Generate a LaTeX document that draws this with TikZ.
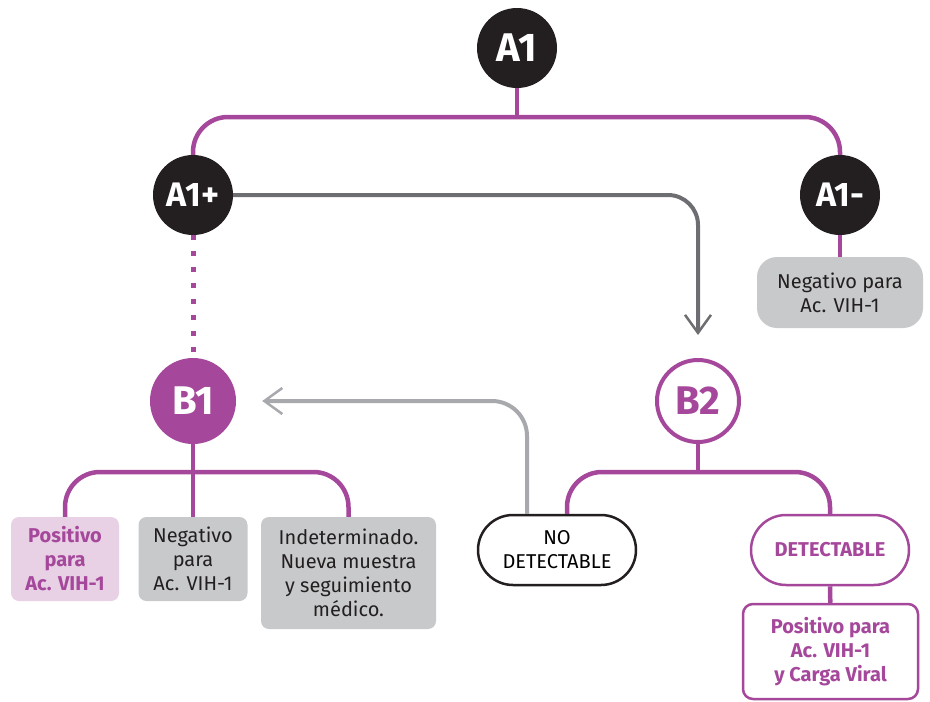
\documentclass[tikz,border=0pt]{standalone}
\usepackage{fontspec}
\setmainfont{Fira Sans}
\usepackage{tikz}
\usetikzlibrary{arrows.meta}
\definecolor{TestPurple}{RGB}{165,72,155}
\definecolor{TestPink}{RGB}{232,208,229}
\definecolor{CircleBlack}{RGB}{35,31,32}
\definecolor{BoxGrey}{RGB}{200,201,203}
\definecolor{DarkGrey}{RGB}{109,110,113}
\definecolor{LightGrey}{RGB}{167,169,172}

\tikzset{
  smalltext/.style={font=\fontsize{20}{24}\selectfont},
  blackcircle/.style={circle, fill=CircleBlack, text=white, inner sep=0pt, minimum size=80pt,
    font=\fontsize{40}{40}\selectfont\bfseries},
  purplecircle/.style={circle, fill=TestPurple, text=white, inner sep=0pt, minimum size=86pt,
    font=\fontsize{40}{40}\selectfont\bfseries},
  ringcircle/.style={circle, draw=TestPurple, line width=4pt, fill=white, text=TestPurple,
    inner sep=0pt, minimum size=82pt, font=\fontsize{40}{40}\selectfont\bfseries},
  greybox/.style={smalltext, fill=BoxGrey, text=CircleBlack, align=center, rounded corners=8pt, inner sep=2pt},
  pinkbox/.style={greybox, fill=TestPink, text=TestPurple, font=\fontsize{20}{24}\selectfont\bfseries},
  pillbox/.style={smalltext, draw=CircleBlack, line width=2.5pt, fill=white, align=center,
    rounded corners=35pt, minimum width=158pt, minimum height=70pt, inner sep=2pt},
  resultbox/.style={smalltext, draw=TestPurple, line width=2.5pt, fill=white, text=TestPurple,
    align=center, rounded corners=10pt, inner sep=2pt, font=\fontsize{20}{24}\selectfont\bfseries},
  purpleline/.style={draw=TestPurple, line width=4.5pt},
  dotline/.style={purpleline, line width=5pt, dash pattern=on 5pt off 11pt},
  greyarrow/.style={line width=4pt, rounded corners=30pt,
    -{Straight Barb[length=18pt, width=26pt, line width=2.5pt]}}
}

\begin{document}
\begin{tikzpicture}[x=1pt, y=-1pt]
    \useasboundingbox (0,0) rectangle (930,702);

    % First test
    \node[blackcircle] (a1) at (517,48) {A1};
    \node[blackcircle, font=\fontsize{34}{34}\selectfont\bfseries] (a1pos) at (193,195) {A1+};
    \node[blackcircle, font=\fontsize{34}{34}\selectfont\bfseries] (a1neg) at (840,195) {A1-};
    \coordinate (a1split) at (517,117);
    \node[greybox, rounded corners=20pt, minimum width=166pt, minimum height=71pt] (a1result) at (840,292.5)
        {Negativo para\\Ac. VIH-1};

    \draw[purpleline] (a1) -- (a1split);
    \draw[purpleline, rounded corners=35pt] (a1pos) |- (a1split) -| (a1neg);
    \draw[purpleline] (a1neg) -- (a1result);

    % Second tests
    \node[purplecircle] (b1) at (193,401) {B1};
    \node[ringcircle] (b2) at (698,401) {B2};

    \draw[dotline] (a1pos) -- (b1);
    \draw[greyarrow, draw=DarkGrey, shorten >=23pt] (a1pos) -| (b2);

    % B1 results
    \coordinate (b1split) at (193,472);
    \node[pinkbox, minimum width=108pt, minimum height=84pt] (b1pos) at (65,559) {Positivo\\para\\Ac. VIH-1};
    \node[greybox, minimum width=109pt, minimum height=84pt] (b1neg) at (193,559) {Negativo\\para\\Ac. VIH-1};
    \node[greybox, minimum width=175pt, minimum height=112pt] (b1ind) at (348.5,573)
        {Indeterminado.\\Nueva muestra\\y seguimiento\\médico.};

    \draw[purpleline] (b1) -- (b1split) -- (b1neg);
    \draw[purpleline, rounded corners=35pt] (b1pos) |- (b1split) -| (b1ind);

    % B2 results
    \coordinate (b2split) at (698,472);
    \node[pillbox] (nodet) at (557,550) {NO\\DETECTABLE};
    \node[pillbox, draw=TestPurple, text=TestPurple, font=\fontsize{20}{24}\selectfont\bfseries] (det) at (830,550)
        {DETECTABLE};
    \node[resultbox, minimum width=175pt, minimum height=95pt] (b2pos) at (830.5,651.5)
        {Positivo para\\Ac. VIH-1\\y Carga Viral};

    \draw[purpleline] (b2) -- (b2split);
    \draw[purpleline, rounded corners=35pt] ([xshift=10pt]nodet.north) |- (b2split) -| (det);
    \draw[purpleline] (det) -- (b2pos);
    \draw[greyarrow, draw=LightGrey, rounded corners=35pt, shorten >=26pt] ([xshift=-30pt]nodet.north) |- (b1);
\end{tikzpicture}
\end{document}
